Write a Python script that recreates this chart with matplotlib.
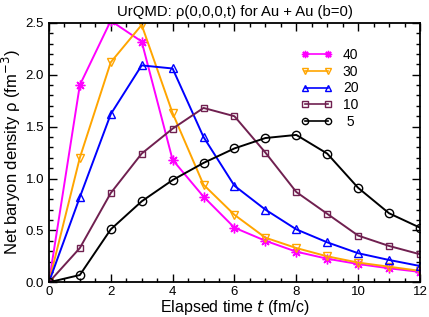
import numpy as np
import matplotlib
matplotlib.use("Agg")
import matplotlib.pyplot as plt
from matplotlib.ticker import MultipleLocator

plt.rcParams['font.family'] = ['Liberation Sans', 'DejaVu Sans']

t = np.arange(0, 13)
rho_40 = [0.0, 1.90, 2.52, 2.32, 1.18, 0.825, 0.526, 0.40, 0.295, 0.227, 0.176, 0.135, 0.10]
rho_30 = [0.0, 1.20, 2.12, 2.48, 1.63, 0.94, 0.65, 0.43, 0.33, 0.25, 0.19, 0.15, 0.11]
rho_20 = [0.0, 0.82, 1.62, 2.09, 2.06, 1.40, 0.93, 0.70, 0.51, 0.385, 0.28, 0.215, 0.157]
rho_10 = [0.0, 0.33, 0.86, 1.24, 1.48, 1.68, 1.60, 1.25, 0.87, 0.66, 0.45, 0.35, 0.27]
rho_5 = [0.0, 0.07, 0.51, 0.78, 0.985, 1.15, 1.29, 1.39, 1.42, 1.24, 0.91, 0.665, 0.526]

labels = ["40", "30", "20", "10", " 5"]
colors = ["#ff00ff", "#ffa500", "#0000ff", "#702050", "#000000"]
markers = [(8, 2, 0), "v", "^", "s", "o"]
sizes = [7, 6, 6, 5, 6]

fig = plt.figure(figsize=(4.29, 3.17), dpi=100)
ax = fig.add_axes([0.114, 0.1095, 0.865, 0.8185])

for y, lab, c, m, s in zip([rho_40, rho_30, rho_20, rho_10, rho_5], labels, colors, markers, sizes):
    ax.plot(t, y, color=c, lw=1.4, marker=m, ms=s, mfc="none", mec=c, mew=1.0, label=lab)

ax.set_xlim(0, 12)
ax.set_ylim(0, 2.5)
ax.xaxis.set_major_locator(MultipleLocator(2))
ax.xaxis.set_minor_locator(MultipleLocator(0.5))
ax.yaxis.set_major_locator(MultipleLocator(0.5))
ax.yaxis.set_minor_locator(MultipleLocator(0.1))
ax.yaxis.set_major_formatter(plt.FormatStrFormatter("%.1f"))
ax.tick_params(which="both", direction="in", top=True, right=True, labelsize=9.5, width=1.0)
ax.tick_params(which="major", length=6)
ax.tick_params(which="minor", length=3)
ax.tick_params(axis="x", pad=2.5)
for sp in ax.spines.values():
    sp.set_linewidth(1.3)

ax.set_xlabel("Elapsed time $t$ (fm/c)", fontsize=11.5, labelpad=0)
ax.set_ylabel("Net baryon density ρ (fm$^{-3}$)", fontsize=12, labelpad=2)
ax.set_title("UrQMD: ρ(0,0,0,t) for Au + Au (b=0)", fontsize=10.7, pad=5)

leg = ax.legend(loc="upper left", bbox_to_anchor=(0.665, 0.925), frameon=False,
                numpoints=2, fontsize=10, handlelength=2.2, labelspacing=0.2,
                handletextpad=0.8, markerscale=0.75, borderaxespad=0)
for h in leg.get_lines():
    h.set_linewidth(1.2)

fig.savefig("out.png", dpi=100)
